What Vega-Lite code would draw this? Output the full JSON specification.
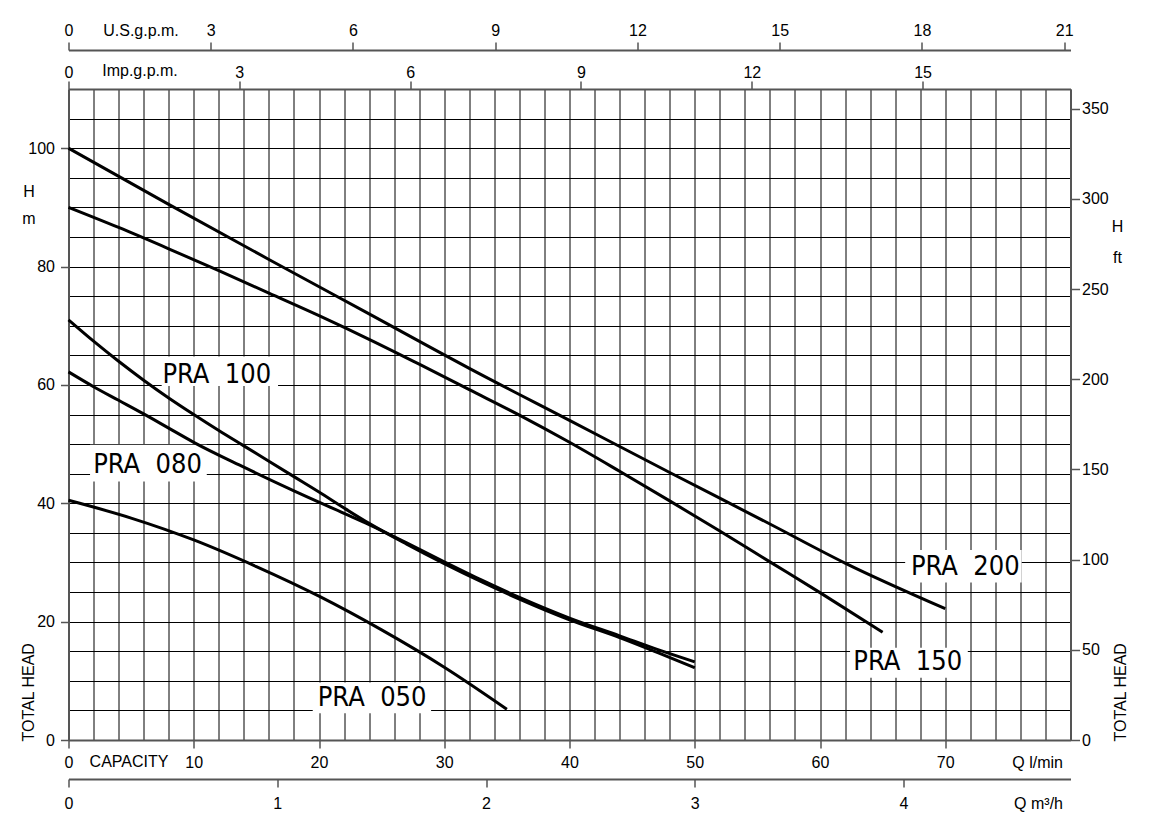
{
  "$schema": "https://vega.github.io/schema/vega-lite/v6.json",
  "width": 1002,
  "height": 651,
  "autosize": "none",
  "padding": {"left": 68.5, "top": 89, "right": 78.5, "bottom": 88},
  "background": "white",
  "config": {
    "view": {"stroke": null},
    "axis": {
      "labelFont": "Liberation Sans", "labelFontSize": 16, "labelColor": "#000",
      "titleFont": "Liberation Sans", "titleFontSize": 16, "titleFontWeight": "normal", "titleColor": "#000",
      "domainColor": "#555", "domainWidth": 2, "tickColor": "#555", "tickWidth": 1.5, "tickSize": 8,
      "labelOverlap": false, "labelFlush": false, "labelBound": false, "grid": false
    }
  },
  "resolve": {"scale": {"x": "independent", "y": "independent"}},
  "layer": [
    {
      "data": {"values": [
        {"label": "PRA 200", "q1": 66.8, "q2": 76.1, "h1": 26.6, "h2": 32.1},
        {"label": "PRA 150", "q1": 62.4, "q2": 71.8, "h1": 10.5, "h2": 15.6},
        {"label": "PRA 100", "q1": 7.44, "q2": 16.73, "h1": 59.8, "h2": 64.8},
        {"label": "PRA 080", "q1": 1.72, "q2": 11.04, "h1": 43.7, "h2": 49.9},
        {"label": "PRA 050", "q1": 19.5, "q2": 28.95, "h1": 4.5, "h2": 9.7}
      ]},
      "mark": {"type": "rect", "color": "white"},
      "encoding": {
        "x": {"field": "q1", "type": "quantitative", "scale": {"domain": [0, 80], "nice": false, "zero": false}, "axis": null},
        "x2": {"field": "q2"},
        "y": {"field": "h1", "type": "quantitative", "scale": {"domain": [0, 110], "nice": false, "zero": false}, "axis": null},
        "y2": {"field": "h2"}
      }
    },
    {
      "data": {"values": [
        {"pump": "PRA 200", "q": 0, "h": 100}, {"pump": "PRA 200", "q": 8, "h": 90.5}, {"pump": "PRA 200", "q": 16, "h": 81.2},
        {"pump": "PRA 200", "q": 24, "h": 72.0}, {"pump": "PRA 200", "q": 32, "h": 62.8}, {"pump": "PRA 200", "q": 40, "h": 54.0},
        {"pump": "PRA 200", "q": 48, "h": 45.2}, {"pump": "PRA 200", "q": 56, "h": 36.5}, {"pump": "PRA 200", "q": 62, "h": 29.9},
        {"pump": "PRA 200", "q": 70, "h": 22.2},
        {"pump": "PRA 150", "q": 0, "h": 90}, {"pump": "PRA 150", "q": 4, "h": 86.6}, {"pump": "PRA 150", "q": 8, "h": 83.0},
        {"pump": "PRA 150", "q": 12, "h": 79.3}, {"pump": "PRA 150", "q": 16, "h": 75.5}, {"pump": "PRA 150", "q": 20, "h": 71.7},
        {"pump": "PRA 150", "q": 24, "h": 67.7}, {"pump": "PRA 150", "q": 28, "h": 63.5}, {"pump": "PRA 150", "q": 32, "h": 59.2},
        {"pump": "PRA 150", "q": 36, "h": 54.9}, {"pump": "PRA 150", "q": 40, "h": 50.3}, {"pump": "PRA 150", "q": 44, "h": 45.4},
        {"pump": "PRA 150", "q": 48, "h": 40.4}, {"pump": "PRA 150", "q": 52, "h": 35.3}, {"pump": "PRA 150", "q": 56, "h": 30.1},
        {"pump": "PRA 150", "q": 60, "h": 24.9}, {"pump": "PRA 150", "q": 65, "h": 18.2},
        {"pump": "PRA 100", "q": 0, "h": 71}, {"pump": "PRA 100", "q": 2, "h": 67.4}, {"pump": "PRA 100", "q": 4, "h": 64.0},
        {"pump": "PRA 100", "q": 6, "h": 60.8}, {"pump": "PRA 100", "q": 8, "h": 57.8}, {"pump": "PRA 100", "q": 10, "h": 55.0},
        {"pump": "PRA 100", "q": 12, "h": 52.3}, {"pump": "PRA 100", "q": 14, "h": 49.7}, {"pump": "PRA 100", "q": 16, "h": 47.1},
        {"pump": "PRA 100", "q": 18, "h": 44.5}, {"pump": "PRA 100", "q": 20, "h": 41.9}, {"pump": "PRA 100", "q": 22, "h": 39.2},
        {"pump": "PRA 100", "q": 24, "h": 36.6}, {"pump": "PRA 100", "q": 27, "h": 33.1}, {"pump": "PRA 100", "q": 30, "h": 29.8},
        {"pump": "PRA 100", "q": 33, "h": 26.7}, {"pump": "PRA 100", "q": 36, "h": 23.8}, {"pump": "PRA 100", "q": 40, "h": 20.3},
        {"pump": "PRA 100", "q": 44, "h": 17.3}, {"pump": "PRA 100", "q": 47, "h": 14.8}, {"pump": "PRA 100", "q": 50, "h": 12.2},
        {"pump": "PRA 080", "q": 0, "h": 62.2}, {"pump": "PRA 080", "q": 2, "h": 59.7}, {"pump": "PRA 080", "q": 4, "h": 57.4},
        {"pump": "PRA 080", "q": 6, "h": 55.1}, {"pump": "PRA 080", "q": 8, "h": 52.7}, {"pump": "PRA 080", "q": 10, "h": 50.3},
        {"pump": "PRA 080", "q": 14, "h": 46.1}, {"pump": "PRA 080", "q": 18, "h": 42.1}, {"pump": "PRA 080", "q": 22, "h": 38.3},
        {"pump": "PRA 080", "q": 24, "h": 36.4}, {"pump": "PRA 080", "q": 27, "h": 33.3}, {"pump": "PRA 080", "q": 30, "h": 30.1},
        {"pump": "PRA 080", "q": 33, "h": 27.0}, {"pump": "PRA 080", "q": 36, "h": 24.1}, {"pump": "PRA 080", "q": 40, "h": 20.6},
        {"pump": "PRA 080", "q": 44, "h": 17.6}, {"pump": "PRA 080", "q": 47, "h": 15.3}, {"pump": "PRA 080", "q": 50, "h": 13.2},
        {"pump": "PRA 050", "q": 0, "h": 40.5}, {"pump": "PRA 050", "q": 5, "h": 37.5}, {"pump": "PRA 050", "q": 10, "h": 33.8},
        {"pump": "PRA 050", "q": 15, "h": 29.3}, {"pump": "PRA 050", "q": 20, "h": 24.3}, {"pump": "PRA 050", "q": 25, "h": 18.6},
        {"pump": "PRA 050", "q": 30, "h": 12.3}, {"pump": "PRA 050", "q": 35, "h": 5.2}
      ]},
      "mark": {"type": "line", "color": "#000", "strokeWidth": 3, "interpolate": "monotone"},
      "encoding": {
        "detail": {"field": "pump"},
        "x": {
          "field": "q", "type": "quantitative",
          "scale": {"domain": [0, 80], "nice": false, "zero": false},
          "axis": {
            "orient": "bottom",
            "values": [0,2,4,6,8,10,12,14,16,18,20,22,24,26,28,30,32,34,36,38,40,42,44,46,48,50,52,54,56,58,60,62,64,66,68,70,72,74,76,78,80],
            "labelExpr": "datum.value % 10 === 0 ? (datum.value < 80 ? datum.label : 'Q l/min') : ''",
            "labelAlign": {"condition": {"test": "datum.value === 80", "value": "right"}, "value": "center"},
            "labelOffset": {"condition": {"test": "datum.value === 80", "value": -8}, "value": 0},
            "tickOpacity": {"condition": {"test": "datum.value % 10 === 0 && datum.value < 80", "value": 1}, "value": 0},
            "labelPadding": 6,
            "grid": true, "gridColor": "#000", "gridWidth": 1, "gridOpacity": 1,
            "title": "CAPACITY", "titleX": 60, "titleY": 21, "titleAlign": "center", "titleBaseline": "middle", "titleAngle": 0
          }
        },
        "y": {
          "field": "h", "type": "quantitative",
          "scale": {"domain": [0, 110], "nice": false, "zero": false},
          "axis": {
            "orient": "left",
            "values": [0,5,10,15,20,25,30,35,40,45,50,55,60,65,70,75,80,85,90,95,100,105,110],
            "labelExpr": "datum.value % 20 === 0 && datum.value <= 100 ? datum.label : ''",
            "tickOpacity": {"condition": {"test": "datum.value % 20 === 0 && datum.value <= 100", "value": 1}, "value": 0},
            "labelPadding": 6,
            "grid": true, "gridColor": "#000", "gridWidth": 1, "gridOpacity": 1,
            "title": ["H", "m"], "titleX": -40, "titleY": 102.5, "titleAngle": 0, "titleAlign": "center", "titleBaseline": "middle", "titleLineHeight": 27
          }
        }
      }
    },
    {
      "data": {"values": [
        {"label": "PRA\u00a0\u00a0200", "q": 71.6, "h": 29.3},
        {"label": "PRA\u00a0\u00a0150", "q": 67.0, "h": 13.1},
        {"label": "PRA\u00a0\u00a0100", "q": 11.84, "h": 61.7},
        {"label": "PRA\u00a0\u00a0080", "q": 6.31, "h": 46.5},
        {"label": "PRA\u00a0\u00a0050", "q": 24.24, "h": 7.15}
      ]},
      "mark": {"type": "text", "font": "Liberation Sans Narrow, DejaVu Sans Condensed, Liberation Sans", "fontSize": 27, "color": "#000", "align": "center", "baseline": "middle"},
      "encoding": {
        "text": {"field": "label"},
        "x": {"field": "q", "type": "quantitative", "scale": {"domain": [0, 80], "nice": false, "zero": false}, "axis": null},
        "y": {"field": "h", "type": "quantitative", "scale": {"domain": [0, 110], "nice": false, "zero": false}, "axis": null}
      }
    },
    {
      "data": {"values": [{"v": 0}]},
      "mark": {"type": "point", "opacity": 0},
      "encoding": {
        "x": {
          "field": "v", "type": "quantitative",
          "scale": {"domain": [0, 21.1338], "nice": false, "zero": false},
          "axis": {
            "orient": "top", "offset": 39, "values": [0,3,6,9,12,15,18,21], "labelPadding": 4,
            "title": "U.S.g.p.m.", "titleX": 72, "titleY": -20, "titleAlign": "center", "titleBaseline": "middle"
          }
        },
        "y": {
          "field": "v", "type": "quantitative",
          "scale": {"domain": [0, 360.892], "nice": false, "zero": false},
          "axis": {
            "orient": "right", "values": [0,50,100,150,200,250,300,350], "tickSize": 9, "labelPadding": 2,
            "title": ["H", "ft"], "titleX": 46.5, "titleY": 137.5, "titleAngle": 0, "titleAlign": "center", "titleBaseline": "middle", "titleLineHeight": 31
          }
        }
      }
    },
    {
      "data": {"values": [{"v": 0}]},
      "mark": {"type": "point", "opacity": 0},
      "encoding": {
        "x": {
          "field": "v", "type": "quantitative",
          "scale": {"domain": [0, 17.5975], "nice": false, "zero": false},
          "axis": {
            "orient": "top", "offset": 0, "values": [0,3,6,9,12,15], "labelPadding": 1,
            "title": "Imp.g.p.m.", "titleX": 71, "titleY": -19, "titleAlign": "center", "titleBaseline": "middle"
          }
        },
        "y": {
          "field": "v", "type": "quantitative",
          "scale": {"domain": [0, 1], "nice": false, "zero": false},
          "axis": {
            "orient": "left", "domain": false, "ticks": false, "labels": false,
            "title": "TOTAL HEAD", "titleX": -40, "titleY": 652, "titleAngle": 270, "titleAlign": "left", "titleBaseline": "middle"
          }
        }
      }
    },
    {
      "data": {"values": [{"v": 0}]},
      "mark": {"type": "point", "opacity": 0},
      "encoding": {
        "x": {
          "field": "v", "type": "quantitative",
          "scale": {"domain": [0, 4.8], "nice": false, "zero": false},
          "axis": {
            "orient": "bottom", "offset": 39, "values": [0,1,2,3,4,4.8], "labelPadding": 8,
            "labelExpr": "datum.value > 4.5 ? 'Q m³/h' : datum.label",
            "labelAlign": {"condition": {"test": "datum.value > 4.5", "value": "right"}, "value": "center"},
            "labelOffset": {"condition": {"test": "datum.value > 4.5", "value": -8}, "value": 0},
            "tickOpacity": {"condition": {"test": "datum.value > 4.5", "value": 0}, "value": 1},
            "title": null
          }
        },
        "y": {
          "field": "v", "type": "quantitative",
          "scale": {"domain": [0, 1], "nice": false, "zero": false},
          "axis": {
            "orient": "right", "domain": false, "ticks": false, "labels": false,
            "title": "TOTAL HEAD", "titleX": 50, "titleY": 652, "titleAngle": 270, "titleAlign": "left", "titleBaseline": "middle"
          }
        }
      }
    }
  ]
}
